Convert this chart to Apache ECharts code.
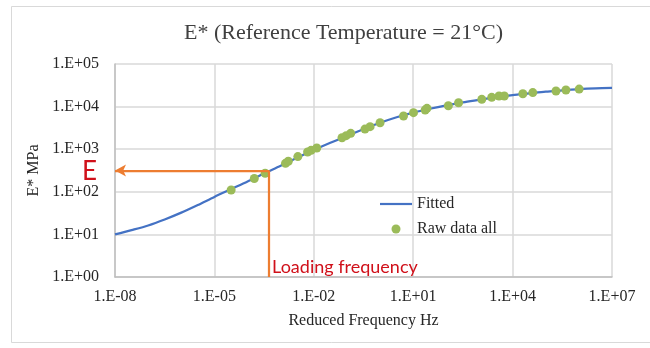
<!DOCTYPE html>
<html>
<head>
<meta charset="utf-8">
<script src="https://cdn.jsdelivr.net/npm/echarts@6/dist/echarts.min.js"></script>
<style>
html,body{margin:0;padding:0;background:#fff;}
#main{width:650px;height:348px;}
</style>
</head>
<body>
<div id="main"></div>
<script>
// ---- data ----
const titleText = 'E* (Reference Temperature = 21°C)';
const xAxisName = 'Reduced Frequency Hz';
const yAxisName = 'E* MPa';
const xTickLabels = ['1.E-08', '1.E-05', '1.E-02', '1.E+01', '1.E+04', '1.E+07'];
const yTickLabels = ['1.E+00', '1.E+01', '1.E+02', '1.E+03', '1.E+04', '1.E+05'];

// Fitted master curve (frequency Hz, E* MPa)
const fitFreq = [1e-8, 3.16e-8, 1e-7, 3.16e-7, 1e-6, 3.16e-6, 1e-5, 3.16e-5, 1e-4, 3.16e-4,
  1e-3, 3.16e-3, 1e-2, 3.16e-2, 1e-1, 3.16e-1, 1, 3.16, 10, 31.6,
  100, 316, 1e3, 3.16e3, 1e4, 3.16e4, 1e5, 3.16e5, 1e6, 3.16e6, 1e7];
const fitE = [10, 12.6, 16.2, 22.4, 32.4, 49.0, 75.9, 115, 174, 269,
  407, 631, 955, 1413, 2042, 2951, 4169, 5623, 7244, 8913,
  10715, 12589, 14454, 16596, 18621, 20417, 22387, 23988, 25704, 26915, 27542];

// Raw data (frequency Hz, E* MPa)
const rawFreq = [3.2e-5, 1.6e-4, 3.4e-4, 1.4e-3, 1.7e-3, 3.3e-3, 6.5e-3, 8.3e-3, 1.23e-2,
  0.071, 0.095, 0.13, 0.35, 0.50, 1.0, 5.1, 10.2, 23, 26,
  115, 234, 1175, 2340, 3890, 5620, 20400, 40700, 204000, 407000, 1.02e6];
const rawE = [110, 205, 272, 466, 522, 670, 857, 940, 1070,
  1860, 2080, 2360, 2960, 3380, 4180, 6020, 7200, 8300, 9100,
  10500, 12300, 14800, 16500, 17700, 17700, 20000, 21300, 23300, 24500, 25800];

// Annotation: loading frequency and resulting modulus
const loadFreq = 4.47e-4;
const loadE = 316;
const annotE = 'E';
const annotFreq = 'Loading frequency';

const seriesNames = ['Fitted', 'Raw data all'];

// ---- chart ----
const chart = echarts.init(document.getElementById('main'), null, {renderer: 'canvas'});
const serif = 'Liberation Serif';
const orange = '#ED7D31';
const red = '#D0101A';
const blue = '#4472C4';

function expOf(v) { return Math.round(Math.log10(v)); }

const option = {
  backgroundColor: '#ffffff',
  animation: false,
  title: {
    text: titleText,
    left: 179,
    top: 17,
    textStyle: {fontFamily: serif, fontSize: 22, fontWeight: 'normal', color: '#404040'}
  },
  legend: {
    orient: 'vertical',
    left: 380,
    top: 196,
    padding: 0,
    itemWidth: 32,
    itemHeight: 9,
    itemGap: 9,
    textStyle: {fontFamily: serif, fontSize: 16, color: '#262626'},
    data: [
      {name: seriesNames[0], icon: 'path://M0,0L32,0L32,2.2L0,2.2Z', itemStyle: {color: blue}},
      {name: seriesNames[1], icon: 'circle'}
    ]
  },
  grid: {left: 115, right: 38, top: 64, bottom: 71, containLabel: false},
  xAxis: {
    type: 'log',
    logBase: 10,
    min: 1e-8,
    max: 1e7,
    interval: 3,
    name: xAxisName,
    nameLocation: 'middle',
    nameGap: 36,
    nameTextStyle: {fontFamily: serif, fontSize: 16, color: '#262626'},
    axisLine: {show: true, lineStyle: {color: '#BFBFBF', width: 1.5}},
    axisTick: {show: false},
    axisLabel: {
      fontFamily: serif, fontSize: 16, color: '#262626', margin: 12,
      formatter: function (v) { const i = (expOf(v) + 8) / 3; return xTickLabels[i] || ''; }
    },
    splitLine: {show: true, lineStyle: {color: '#D9D9D9', width: 1.5}},
    minorTick: {show: false}
  },
  yAxis: {
    type: 'log',
    logBase: 10,
    min: 1,
    max: 1e5,
    interval: 1,
    name: yAxisName,
    nameLocation: 'middle',
    nameGap: 72,
    nameRotate: 90,
    nameTextStyle: {fontFamily: serif, fontSize: 16, color: '#262626'},
    axisLine: {show: true, lineStyle: {color: '#BFBFBF', width: 1.5}},
    axisTick: {show: false},
    axisLabel: {
      fontFamily: serif, fontSize: 16, color: '#262626', margin: 16,
      formatter: function (v) { return yTickLabels[expOf(v)] || ''; }
    },
    splitLine: {show: true, lineStyle: {color: '#D9D9D9', width: 1.5}}
  },
  series: [
    {
      name: seriesNames[0],
      type: 'line',
      data: fitFreq.map((f, i) => [f, fitE[i]]),
      smooth: 0.3,
      showSymbol: false,
      symbol: 'none',
      lineStyle: {color: blue, width: 2.25},
      itemStyle: {color: blue},
      z: 2
    },
    {
      name: seriesNames[1],
      type: 'scatter',
      data: rawFreq.map((f, i) => [f, rawE[i]]),
      symbol: 'circle',
      symbolSize: 9,
      itemStyle: {color: '#9BBB59', opacity: 1},
      z: 3,
      markLine: {
        silent: true,
        animation: false,
        label: {show: false},
        lineStyle: {color: orange, width: 2.25, type: 'solid'},
        symbolSize: [9, 11],
        data: [
          [
            {coord: [fitFreq[0], loadE], symbol: 'arrow'},
            {coord: [loadFreq, loadE], symbol: 'none'}
          ],
          [
            {coord: [loadFreq, loadE], symbol: 'none'},
            {coord: [loadFreq, 1], symbol: 'none'}
          ]
        ]
      }
    }
  ]
};
chart.setOption(option);

// place the annotation texts relative to the data coordinates
const pE = chart.convertToPixel({gridIndex: 0}, [fitFreq[0], loadE]);
const pF = chart.convertToPixel({gridIndex: 0}, [loadFreq, 1]);
chart.setOption({
  graphic: [
    {
      type: 'rect',
      silent: true,
      shape: {x: 11.5, y: 6.5, width: 650, height: 336},
      style: {fill: 'none', stroke: '#D9D9D9', lineWidth: 1},
      z: -1
    },
    {
      type: 'text',
      silent: true,
      x: pE[0] - 18,
      y: pE[1] + 1,
      style: {text: annotE, fontFamily: 'Lato', fontSize: 26, fill: red, align: 'right', verticalAlign: 'middle'}
    },
    {
      type: 'text',
      silent: true,
      x: pF[0] + 3,
      y: pF[1] - 10,
      style: {text: annotFreq, fontFamily: 'Lato', fontSize: 18, fill: red, align: 'left', verticalAlign: 'middle'}
    }
  ]
});
</script>
</body>
</html>
